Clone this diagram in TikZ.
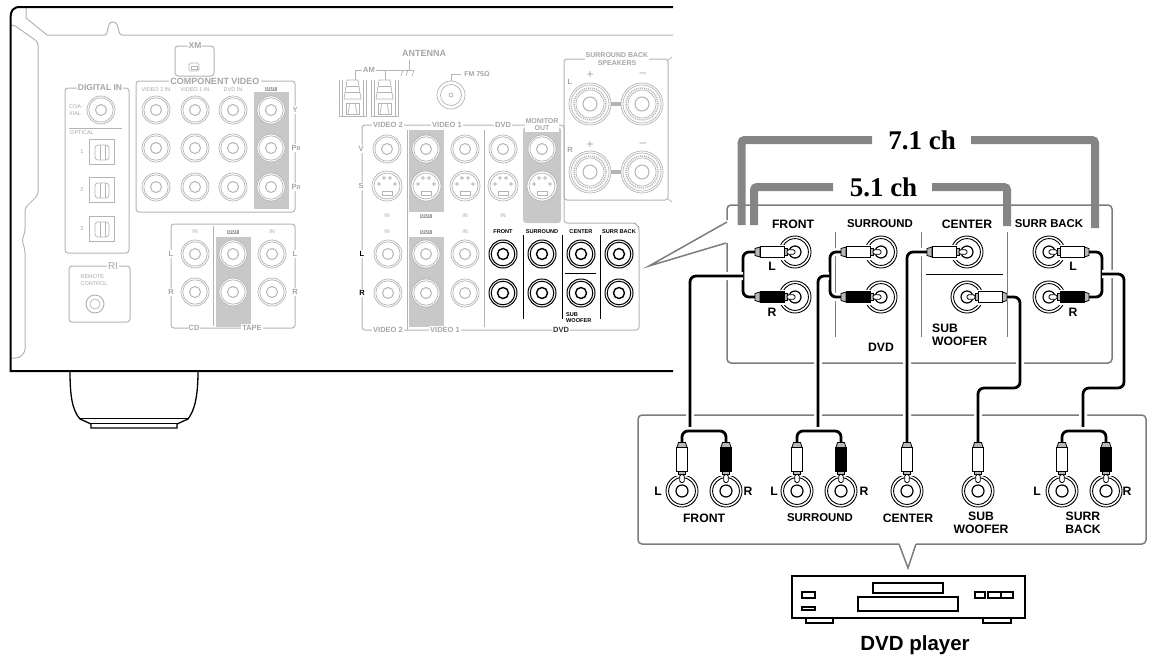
\documentclass[tikz,border=0pt]{standalone}
\usepackage{fontspec}
\setmainfont{Liberation Sans}
\newfontfamily\titlefont{Liberation Serif}
\usetikzlibrary{positioning}

\definecolor{faintgrey}{HTML}{B4B4B4}
\definecolor{faintshade}{HTML}{C8C8C8}
\definecolor{fainttext}{HTML}{A6A6A6}
\definecolor{panelgrey}{HTML}{7C7C7C}
\definecolor{bargrey}{HTML}{858585}

\newcommand{\fs}[1]{\fontsize{#1}{#1}\selectfont}

% faded jack on the back panel
\newcommand{\fadejack}[1]{
  \draw[faintline, fill=white] (#1) circle (14pt);
  \draw[faintline] (#1) circle (12.2pt);
  \draw[faintline, line width=1pt] (#1) circle (5.5pt);
}
% faded S-video socket
\newcommand{\sjack}[1]{
  \begin{scope}[shift={(#1)}]
    \draw[faintline, fill=white] (0,0) circle (15pt);
    \draw[faintline] (0,0) circle (13pt);
    \foreach \a/\b in {-8/-2, 8/-2, -3/-8, 3/-8} {\draw[faintline, line width=.6pt] (\a,\b) circle (1.4pt);}
    \draw[faintline, line width=.6pt] (-5,5) rectangle (5,9);
  \end{scope}
}
% dark jack on the back panel
\newcommand{\darkjack}[1]{
  \draw[line width=1pt, fill=white] (#1) circle (14pt);
  \draw[line width=1pt] (#1) circle (11.8pt);
  \draw[line width=1.4pt] (#1) circle (5.5pt);
}
% jack of the enlarged panels
\newcommand{\bigjack}[1]{
  \draw[line width=.9pt, fill=white] (#1) circle (16pt);
  \draw[line width=.9pt] (#1) circle (13.4pt);
  \draw[line width=1.2pt] (#1) circle (6pt);
}
% speaker terminal
\newcommand{\speakerpost}[1]{
  \draw[faintline, fill=white] (#1) circle (21pt);
  \draw[faintline] (#1) circle (19pt);
  \draw[faintline, line width=1.5pt, dash pattern=on 1pt off 1pt] (#1) circle (16pt);
  \draw[faintline] (#1) circle (14pt);
  \draw[faintline, line width=1pt] (#1) circle (7pt);
}
% optical socket
\newcommand{\optical}[1]{
  \begin{scope}[shift={(#1)}]
    \draw[faintline, line width=1pt] (-12.5,-12.5) rectangle (12.5,12.5);
    \draw[faintline, rounded corners=3pt] (-7,-7) rectangle (7,8);
    \draw[faintline] (-2,-7) -- (-2,8) (3,-7) -- (3,8);
  \end{scope}
}
% AM clip
\newcommand{\amclip}[1]{
  \begin{scope}[shift={(#1,0)}]
    \draw[faintline, line width=1pt] (0,80) -- (0,116) -- (27,116) -- (27,80);
    \draw[faintline] (3,80) -- (3,116) (24,80) -- (24,116);
    \draw[faintline] (8,80) -- (19,80) -- (22,99) -- (5,99) -- cycle;
    \draw[faintline] (7,86) -- (20,86) (6,92) -- (21,92);
    \draw[faintline] (7,103) rectangle (20,114);
    \draw[faintline] (11,103) -- (9,114) (16,103) -- (18,114);
  \end{scope}
}
% plug going into a jack, the tip looks along +x
\newcommand{\plug}[4]{
  \begin{scope}[shift={(#1)}, rotate=#2, xshift=#4]
    \fill[white] (-16,-7.5) rectangle (-7,7.5);
    \draw[plugline, fill=gray!55] (-40,-3.5) -- (-35,-5) -- (-35,5) -- (-40,3.5) -- cycle;
    \draw[plugline, fill=#3] (-35,-5.8) rectangle (-11,5.8);
    \draw[plugline, fill=gray!55] (-11,-3.6) rectangle (-8,3.6);
    \draw[plugline, fill=white, rounded corners=1.5pt] (-8,-2.3) rectangle (0,2.3);
  \end{scope}
}
\newcommand{\cablerun}[1]{
  \draw[cablehalo] #1;
  \draw[cable] #1;
}

\begin{document}
\begin{tikzpicture}[
    x=1pt, y=-1pt,
    faintline/.style={draw=faintgrey, line width=.7pt},
    faintbox/.style={draw=faintgrey, line width=1pt, rounded corners=3pt},
    greyfill/.style={fill=faintshade},
    title/.style={text=fainttext, fill=white, inner sep=1pt, font=\bfseries\fs{8.5}},
    small/.style={text=fainttext, inner sep=.5pt, font=\fs{5.5}},
    side/.style={text=fainttext, fill=white, inner sep=1pt, font=\bfseries\fs{7.5}},
    outtag/.style={fill=fainttext, text=white, inner sep=.6pt, font=\bfseries\fs{5}},
    tag/.style={inner sep=0pt, font=\bfseries\fs{5.6}, align=left},
    frame/.style={draw=panelgrey, line width=1.5pt, rounded corners=4pt},
    bar/.style={draw=bargrey, line width=8pt, rounded corners=3pt},
    chlabel/.style={inner sep=0pt, font=\titlefont\bfseries\fs{27}},
    lab/.style={inner sep=0pt, font=\bfseries\fs{12.2}, align=center},
    labwide/.style={inner sep=0pt, font=\bfseries\fs{11.4}, align=center},
    plugline/.style={draw=black, line width=.8pt},
    cable/.style={draw=black, line width=2.8pt, rounded corners=6pt},
    cablehalo/.style={draw=white, line width=8pt, rounded corners=6pt},
    player/.style={draw=black, line width=1.1pt}
]
\useasboundingbox (0,0) rectangle (1156,662);

% Foot and chassis
\draw[line width=1.3pt, fill=white] (70,371) .. controls (70,395) and (72,410) .. (80,419) -- (91,424) -- (91,428) -- (177,428) -- (177,424) -- (188,419) .. controls (195,410) and (198,395) .. (198,371);
\draw[line width=.8pt] (80,418) -- (188,418) (91,423) -- (177,423);
\draw[faintline, line width=1pt] (26,8) -- (26,18) -- (47,35) -- (105,35) .. controls (109,35) and (106,22) .. (113,22) .. controls (120,22) and (117,35) .. (122,35) -- (673,35);
\draw[faintline, line width=1pt, rounded corners=3pt] (10,25) -- (14,25) -- (38,42) -- (38,195) -- (25,208) -- (25,232) -- (22,240) -- (25,250) -- (25,352) -- (19,358) -- (10,358);
\draw[line width=2pt] (673,7) -- (20,7) .. controls (13,7) and (10.5,11) .. (10.5,18) -- (10.5,371) -- (673,371);

% Digital in
\draw[faintbox] (65,88) rectangle (129,253);
\node[title] (digitalin) at (100,88) {DIGITAL IN};
\node[small, align=left] (coax) at (76,110) {COA-\\[1pt]XIAL};
\fadejack{101,110}
\draw[faintline, line width=1pt] (69,128) -- (122,128);
\node[small] (opticallab) at (82,133) {OPTICAL};
\foreach \n/\y in {1/152, 2/190, 3/229} {
  \optical{102,\y}
  \node[small] (opt\n) at (82,\y) {\n};
}

% XM
\draw[faintbox] (175,46) rectangle (214,76);
\node[title] (xm) at (195,46) {XM};
\draw[faintline, rounded corners=1.5pt] (189,63) rectangle (199,71);
\draw[faintline] (191,66) rectangle (197,69);

% Component video
\draw[faintbox] (136,81) rectangle (295,212);
\fill[greyfill] (254,92) rectangle (289,209);
\node[title, font=\bfseries\fs{9}] (compvideo) at (215,81) {COMPONENT VIDEO};
\foreach \x/\t in {156/VIDEO 2 IN, 195/VIDEO 1 IN, 233/DVD IN} {\node[small] (comp\x) at (\x,90) {\t};}
\node[outtag] (compout) at (271,89) {OUT};
\foreach \x in {156,195,233,271} {\foreach \y in {110,148,187} {\fadejack{\x,\y}}}
\node[side] (compy) at (295,110) {Y};
\node[side] (comppb) at (296,148) {P{\fs{5.5}B}};
\node[side] (comppr) at (296,187) {P{\fs{5.5}R}};

% Tape and CD
\draw[faintbox] (171,224) rectangle (295,328);
\fill[greyfill] (216,237) rectangle (251,327);
\draw[faintline, line width=1pt] (213.5,226) -- (213.5,326);
\node[small] (cdin) at (195,232) {IN};
\node[outtag] (tapeout) at (233,232) {OUT};
\node[small] (tapein) at (272,232) {IN};
\foreach \x in {195,233,272} {\foreach \y in {254,292} {\fadejack{\x,\y}}}
\node[side] (leftl) at (171,254) {L};
\node[side] (leftr) at (171,292) {R};
\node[side] (rightl) at (295,254) {L};
\node[side] (rightr) at (295,292) {R};
\node[title, font=\bfseries\fs{7.5}] (cdlab) at (194,328) {CD};
\node[title, font=\bfseries\fs{7.5}] (tapelab) at (252,328) {TAPE};

% Remote control
\draw[faintbox] (69,266) rectangle (130,322);
\node[title, font=\fs{10}] (ri) at (113,266) {RI};
\node[small, align=left] (remote) at (94,280) {REMOTE\\[1.5pt]CONTROL};
\draw[faintline, line width=1pt] (95,304) circle (9pt);
\draw[faintline] (95,304) circle (5pt);

% Antenna
\node[title, font=\bfseries\fs{9}] (antenna) at (424,53) {ANTENNA};
\amclip{339}
\amclip{371}
\draw[faintline] (355,80) -- (355,70) -- (362,70) (376,70) -- (385,70) -- (385,80) (385,70) -- (403,70) (409,60) -- (409,70) (401,70) -- (414,70);
\draw[faintline] (403,70) -- (401,76) (408,70) -- (406,76) (414,70) -- (412,76);
\node[title, font=\bfseries\fs{7.5}] (am) at (369,70) {AM};
\draw[faintline, fill=white] (451,95) circle (14pt);
\draw[faintline] (451,95) circle (10.5pt) (451,95) circle (2pt);
\draw[faintline] (451,81) -- (451,74) -- (461,74);
\node[title, font=\bfseries\fs{7}] (fm) at (477,74) {FM 75Ω};

% Surround back speakers
\draw[faintbox] (564,59) -- (668,59) -- (668,200) -- (564,200) -- cycle;
\draw[faintline] (668,60) -- (672,57) (668,199) -- (672,202);
\draw[faintline, line width=4pt] (608,104) -- (624,104) (608,172) -- (624,172);
\foreach \y in {104,172} {\foreach \x in {590,642} {\speakerpost{\x,\y}}}
\node[title, font=\bfseries\fs{7}, align=center] (surrspeak) at (617,59) {SURROUND BACK\\[.5pt]SPEAKERS};
\node[side] (spkl) at (570,82) {L};
\node[side] (spkr) at (570,150) {R};
\foreach \y in {75,145} {
  \node[text=fainttext, inner sep=0pt, font=\fs{12}] (plus\y) at (590,\y) {+};
  \node[text=fainttext, inner sep=0pt, font=\fs{12}] (minus\y) at (643,\y) {–};
}

% Video inputs and DVD inputs
\fill[greyfill] (409,130) rectangle (444,212);
\fill[greyfill] (409,237) rectangle (444,327);
\fill[greyfill, rounded corners=3pt] (523,127) -- (523,223) -- (561,223) -- (561,127) -- cycle;
\draw[faintbox] (362,125) -- (564,125) -- (564,223) -- (635,223) -- (639,227) -- (639,330) -- (362,330) -- cycle;
\draw[faintline, line width=1pt] (407,130) -- (407,330) (484,130) -- (484,327);
\foreach \x/\t in {388/VIDEO 2, 447/VIDEO 1, 503/DVD} {\node[title, font=\bfseries\fs{7.5}] (topv\x) at (\x,125) {\t};}
\node[title, font=\bfseries\fs{7}, align=center] (monitor) at (542,124.5) {MONITOR\\[.5pt]OUT};
\foreach \x in {387,426,465,503,542} {
  \fadejack{\x,149}
  \sjack{\x,186}
}
\node[side] (vlab) at (361,149) {V};
\node[side] (slab) at (361,186) {S};
\foreach \x in {387,465,503} {\node[small] (inup\x) at (\x,216) {IN};}
\node[outtag] (outup) at (426,216) {OUT};
\foreach \x in {387,465} {\node[small] (indn\x) at (\x,232) {IN};}
\node[outtag] (outdn) at (426,232) {OUT};
\foreach \x in {388,426,465} {\foreach \y in {254,293} {\fadejack{\x,\y}}}
\node[fill=white, inner sep=1pt, font=\bfseries\fs{7.5}] (blackl) at (362,254) {L};
\node[fill=white, inner sep=1pt, font=\bfseries\fs{7.5}] (blackr) at (362,293) {R};
\foreach \x/\t in {503/FRONT, 542/SURROUND, 581/CENTER, 619/SURR BACK} {
  \node[tag] (dvdtag\x) at (\x,232) {\t};
  \darkjack{\x,254}
  \darkjack{\x,293}
}
\draw[line width=1pt] (523,235) -- (523,319) (562,235) -- (562,319) (600,235) -- (600,319) (565,273) -- (596,273);
\node[tag, anchor=west] (dvdsub) at (566,318) {SUB\\[.5pt]WOOFER};
\node[title, font=\bfseries\fs{7.5}] (vid2) at (388,330) {VIDEO 2};
\node[title, font=\bfseries\fs{7.5}] (vid1) at (445,330) {VIDEO 1};
\node[title, text=black!80, font=\bfseries\fs{7.5}] (dvdlab) at (561,330) {DVD};

% Enlarged receiver panel
\draw[frame] (727,220) -- (727,205) -- (1112,205) -- (1112,363) -- (727,363) -- (727,243);
\draw[frame, rounded corners=0pt, line join=miter] (727,222) -- (649,266) -- (726,243);
\draw[panelgrey, line width=.9pt] (835,232) -- (835,337) (921,232) -- (921,337) (1007.7,232) -- (1007.7,337);
\draw[line width=.7pt] (926,274) -- (1003,274);

% Lower panel of the player
\draw[frame] (899,544) -- (638,544) -- (638,415) -- (1146,415) -- (1146,544) -- (916,544);
\draw[frame, rounded corners=0pt] (899,544) -- (908,568) -- (916,544);

% Channel brackets
\draw[bar] (741.5,225) -- (741.5,140) -- (872,140);
\draw[bar] (971,140) -- (1095,140) -- (1095,228);
\draw[bar] (754,225) -- (754,187) -- (833,187);
\draw[bar] (932,187) -- (1007,187) -- (1007,226);
\node[chlabel] (sevenone) at (922,140) {7.1 ch};
\node[chlabel] (fiveone) at (883.5,187) {5.1 ch};

% Receiver jacks
\coordinate (frontL) at (795,252);
\coordinate (frontR) at (795,297);
\coordinate (surrL) at (881,252);
\coordinate (surrR) at (881,297);
\coordinate (centerJ) at (967,252);
\coordinate (subJ) at (967,297);
\coordinate (backL) at (1049,252);
\coordinate (backR) at (1049,297);
\foreach \j in {frontL,frontR,surrL,surrR,centerJ,subJ,backL,backR} {\bigjack{\j}}

% Player jacks
\coordinate (pfrontL) at (682,491);
\coordinate (pfrontR) at (726,491);
\coordinate (psurrL) at (797,491);
\coordinate (psurrR) at (841,491);
\coordinate (pcenter) at (907,491);
\coordinate (psub) at (978,491);
\coordinate (pbackL) at (1062,491);
\coordinate (pbackR) at (1106,491);
\foreach \j in {pfrontL,pfrontR,psurrL,psurrR,pcenter,psub,pbackL,pbackR} {\bigjack{\j}}

% Cables
\cablerun{(frontL) ++(-40,0) -- ++(-12,0) -- ++(0,45) -- ++(12,0)}
\cablerun{(743,276) -- (690,276) -- (690,431)}
\cablerun{(pfrontL) ++(0,-49) |- (726,431) -- (726,442)}
\cablerun{(surrL) ++(-40,0) -- ++(-11,0) -- ++(0,45) -- ++(11,0)}
\cablerun{(829,276) -- (818,276) -- (818,431)}
\cablerun{(psurrL) ++(0,-49) |- (841,431) -- (841,442)}
\cablerun{(centerJ) ++(-40,0) -- (907,252) -- (907,442)}
\cablerun{(subJ) ++(40,0) -- (1020,297) -- (1020,388) -- (978,388) -- (978,442)}
\cablerun{(backL) ++(40,0) -- ++(13,0) -- ++(0,45) -- ++(-13,0)}
\cablerun{(1102,274) -- (1124,274) -- (1124,388) -- (1083,388) -- (1083,431)}
\cablerun{(pbackL) ++(0,-49) |- (1106,431) -- (1106,442)}

% Plugs
\plug{frontL}{0}{white}{0pt}
\plug{frontR}{0}{black}{0pt}
\plug{surrL}{0}{white}{0pt}
\plug{surrR}{0}{black}{0pt}
\plug{centerJ}{0}{white}{0pt}
\plug{subJ}{180}{white}{0pt}
\plug{backL}{180}{white}{0pt}
\plug{backR}{180}{black}{0pt}
\plug{pfrontL}{-90}{white}{-8.5pt}
\plug{pfrontR}{-90}{black}{-8.5pt}
\plug{psurrL}{-90}{white}{-8.5pt}
\plug{psurrR}{-90}{black}{-8.5pt}
\plug{pcenter}{-90}{white}{-8.5pt}
\plug{psub}{-90}{white}{-8.5pt}
\plug{pbackL}{-90}{white}{-8.5pt}
\plug{pbackR}{-90}{black}{-8.5pt}

% Receiver labels
\node[lab] (lfront) at (793,224) {FRONT};
\node[labwide] (lsurr) at (880,224) {SURROUND};
\node[lab] (lcenter) at (967,224) {CENTER};
\node[labwide] (lback) at (1049,224) {SURR BACK};
\node[lab] (lfl) at (772,266) {L};
\node[lab] (lfr) at (772,312) {R};
\node[lab] (lbl) at (1073,266) {L};
\node[lab] (lbr) at (1073,312) {R};
\node[lab] (ldvd) at (881,347) {DVD};
\node[lab, align=left, anchor=west] (lsub) at (932,334.5) {SUB\\[.5pt]WOOFER};

% Player labels
\foreach \x/\t in {658/L, 748/R, 774/L, 864/R, 1037/L, 1127/R} {\node[lab] (p\x) at (\x,491) {\t};}
\node[lab] (pfront) at (704,518) {FRONT};
\node[labwide] (psurr) at (820,518) {SURROUND};
\node[lab] (pcent) at (908,518) {CENTER};
\node[lab, anchor=north] (psubl) at (981,512) {SUB\\[.5pt]WOOFER};
\node[lab, anchor=north] (pbackl) at (1083,512) {SURR\\[.5pt]BACK};

% DVD player
\draw[player, line width=1.6pt] (792,576) rectangle (1025,618);
\draw[player] (873,583) rectangle (943,593);
\draw[player] (858,597) rectangle (958,611);
\draw[player] (802,592) rectangle (815,598);
\draw[player] (802,607) rectangle (815,610);
\draw[player] (975,592) rectangle (985,598);
\draw[player] (988,592) rectangle (1013,598) (1001,592) -- (1001,598);
\draw[player] (806,618) -- (806,623) -- (833,623) -- (833,618);
\draw[player] (983,618) -- (983,623) -- (1011,623) -- (1011,618);
\node[inner sep=0pt, font=\bfseries\fs{20.5}] (dvdplayer) at (915,645) {DVD player};

\end{tikzpicture}
\end{document}
